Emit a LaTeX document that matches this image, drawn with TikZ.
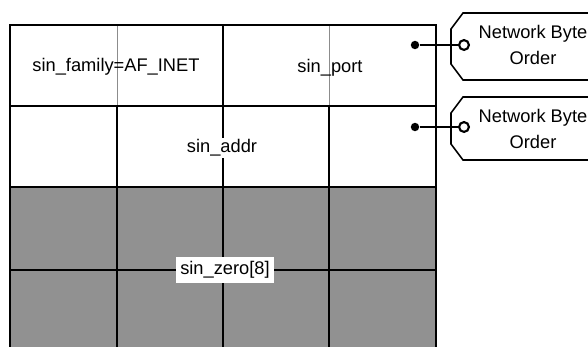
\documentclass[tikz,border=0pt]{standalone}
\usepackage{fontspec}
\setmainfont{Liberation Sans}
\usepackage{xcolor}
\usepackage{tikz}
\usetikzlibrary{positioning,calc}

\definecolor{padgray}{gray}{0.57}

\tikzset{
	field/.style={font=\fontsize{13}{15}\selectfont, inner sep=1pt},
	bytediv/.style={draw=black!45, line width=0.6pt},
	tagbox/.style={draw, line width=1.1pt, fill=white},
	tagtext/.style={font=\fontsize{13}{15}\selectfont, align=center, inner sep=0pt},
	hole/.style={circle, draw, line width=1.5pt, inner sep=0pt, minimum size=7pt}
}

\begin{document}
\begin{tikzpicture}[x=0.025cm, y=-0.025cm]
		\useasboundingbox (0,0) rectangle (588,347);
		\clip (0,0) rectangle (588,347);

		% padding bytes
		\fill[padgray] (10,187) rectangle (436,360);

		% byte dividers
		\draw[bytediv] (117,25) -- (117,106);
		\draw[bytediv] (329,25) -- (329,106);
		\draw[line width=0.8pt] (223,25) -- (223,106);
		\foreach \x in {117,223,329}
			\draw[line width=0.8pt] (\x,106) -- (\x,360);

		% rows and frame
		\draw[line width=1pt] (10,106) -- (436,106);
		\draw[line width=1pt] (10,187) -- (436,187);
		\draw[line width=0.8pt] (10,270) -- (436,270);
		\draw[line width=1.3pt] (10,360) -- (10,25) -- (436,25) -- (436,360);

		\node[field] (family) at (116,67) {sin\_family=AF\_INET};
		\node[field] (port) at (330,68) {sin\_port};
		\node[field, fill=white] (addr) at (222,148) {sin\_addr};
		\node[field, fill=white, inner sep=3pt] (zero) at (225,270) {sin\_zero[8]};

		% tags
		\draw[tagbox] (463,13) -- (600,13) -- (600,80) -- (463,80) -- (451,64) -- (451,29) -- cycle;
		\draw[tagbox] (463,97) -- (600,97) -- (600,160) -- (463,160) -- (451,144) -- (451,113) -- cycle;
		\node[tagtext] (tagport) at (533,45) {Network Byte\\[3pt]Order};
		\node[tagtext] (tagaddr) at (533,129) {Network Byte\\[3pt]Order};

		\node[circle, fill, inner sep=0pt, minimum size=6pt] (dotport) at (415,45) {};
		\node[circle, fill, inner sep=0pt, minimum size=6pt] (dotaddr) at (415,127) {};
		\node[hole] (holeport) at (464,45) {};
		\node[hole] (holeaddr) at (464,127) {};

		\draw[line width=1.1pt] (dotport) -- (holeport);
		\draw[line width=1.1pt] (dotaddr) -- (holeaddr);
	\end{tikzpicture}
\end{document}
